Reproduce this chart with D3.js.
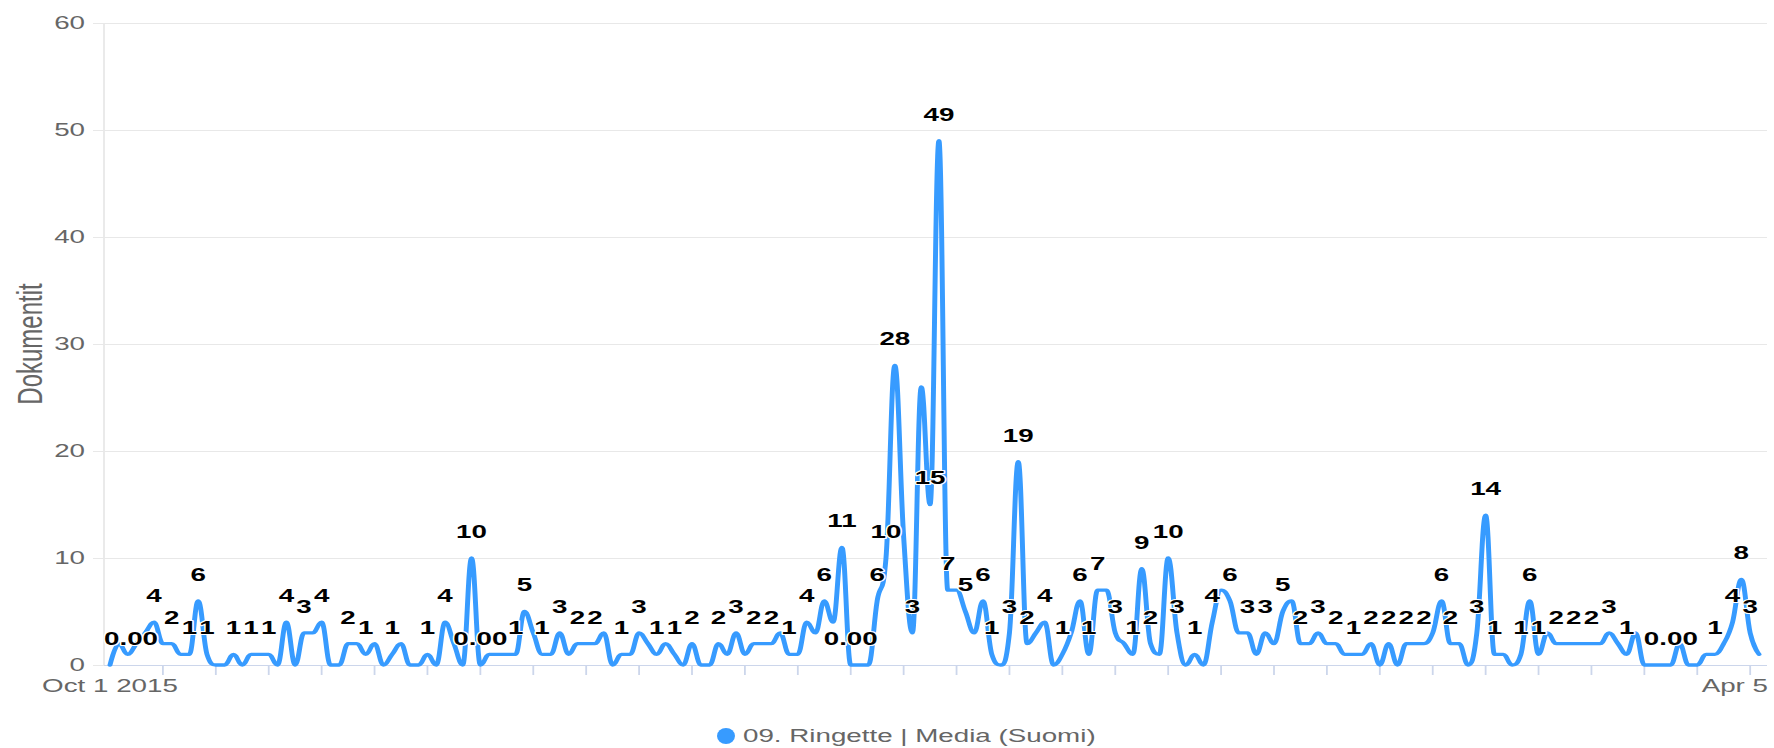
<!DOCTYPE html>
<html>
<head>
<meta charset="utf-8">
<script src="https://cdn.jsdelivr.net/npm/d3@7"></script>
<style>
  html, body { margin: 0; padding: 0; background: #fff; }
  svg { display: block; }
</style>
</head>
<body>
<div id="chart"></div>
<script>
// daily document counts, one value per day from Oct 1 2015 to Apr 5 2016
let start_day = Date.UTC(2015, 9, 1);
let values = [
  0, 2, 1, 2, 3, 4, 2, 2, 1, 1,
  6, 1, 0, 0, 1, 0, 1, 1, 1, 0,
  4, 0, 3, 3, 4, 0, 0, 2, 2, 1,
  2, 0, 1, 2, 0, 0, 1, 0, 4, 2,
  0, 10, 0, 1, 1, 1, 1, 5, 3, 1,
  1, 3, 1, 2, 2, 2, 3, 0, 1, 1,
  3, 2, 1, 2, 1, 0, 2, 0, 0, 2,
  1, 3, 1, 2, 2, 2, 3, 1, 1, 4,
  3, 6, 4, 11, 0, 0, 0, 6, 10, 28,
  12, 3, 26, 15, 49, 7, 7, 5, 3, 6,
  1, 0, 3, 19, 2, 3, 4, 0, 1, 3,
  6, 1, 7, 7, 3, 2, 1, 9, 2, 1,
  10, 3, 0, 1, 0, 4, 7, 6, 3, 3,
  1, 3, 2, 5, 6, 2, 2, 3, 2, 2,
  1, 1, 1, 2, 0, 2, 0, 2, 2, 2,
  3, 6, 2, 2, 0, 3, 14, 1, 1, 0,
  1, 6, 1, 3, 2, 2, 2, 2, 2, 2,
  3, 2, 1, 3, 0, 0, 0, 0, 2, 0,
  0, 1, 1, 2, 4, 8, 3, 1
];
// days whose data label survives the overlap check in the picture
let labelled = [0, 5, 7, 9, 10, 11, 14, 16, 18, 20, 22, 24, 27, 29, 32, 36, 38, 41, 42,
  46, 47, 49, 51, 53, 55, 58, 60, 62, 64, 66, 69, 71, 73, 75, 77, 79, 81, 83, 84, 87, 88,
  89, 91, 93, 94, 95, 97, 99, 100, 102, 103, 104, 106, 108, 110, 111, 112, 114, 116, 117,
  118, 120, 121, 123, 125, 127, 129, 131, 133, 135, 137, 139, 141, 143, 145, 147, 149,
  151, 152, 155, 156, 157, 160, 161, 162, 164, 166, 168, 170, 172, 177, 182, 184, 185, 186];
let y_ticks = [0, 10, 20, 30, 40, 50, 60];
let x_tick_days = 6;
let x_first_label = 'Oct 1 2015';
let x_last_label = 'Apr 5';
let series_name = '09. Ringette | Media (Suomi)';
let y_title = 'Dokumentit';

// the picture is stretched sideways, so draw in a narrower box and stretch it
let svg_width = 1774;
let svg_height = 748;
let stretch = 1.5;
let vw = svg_width / stretch;

let plot_left = 104 / stretch;
let plot_right = 1767 / stretch;
let plot_top = 23;
let plot_bottom = 665;

let line_color = '#379bff';
let font = '"Liberation Sans", Arial, Helvetica, sans-serif';

let dates = values.map((v, i) => new Date(start_day + i * 864e5));

let x = d3.scaleUtc()
    .domain([dates[0], dates[dates.length - 1]])
    .range([110 / stretch, 1759 / stretch]);
let y = d3.scaleLinear().domain([0, 60]).range([plot_bottom, plot_top]);

let svg = d3.select('#chart')
    .append('svg')
    .attr('width', svg_width)
    .attr('height', svg_height)
    .attr('viewBox', `0 0 ${vw} ${svg_height}`)
    .attr('preserveAspectRatio', 'none');

// grid lines and small y ticks
svg.append('g').selectAll('line')
    .data(y_ticks)
    .enter().append('line')
    .attr('x1', plot_left - 11 / stretch)
    .attr('x2', plot_right)
    .attr('y1', d => y(d) + 0.5)
    .attr('y2', d => y(d) + 0.5)
    .attr('stroke', '#e8e8e8')
    .attr('stroke-width', 1.2);

svg.append('line')
    .attr('x1', plot_left).attr('x2', plot_left)
    .attr('y1', plot_top).attr('y2', plot_bottom)
    .attr('stroke', '#e8e8e8')
    .attr('stroke-width', 1.2);

// y labels
svg.append('g').selectAll('text')
    .data(y_ticks)
    .enter().append('text')
    .attr('x', 85 / stretch)
    .attr('y', d => y(d) + 6.5)
    .attr('text-anchor', 'end')
    .attr('font-family', font)
    .attr('font-size', 18.5)
    .attr('fill', '#666')
    .text(d => d);

// y title
svg.append('text')
    .attr('transform', `translate(${42 / stretch},${(plot_top + plot_bottom) / 2}) rotate(-90)`)
    .attr('text-anchor', 'middle')
    .attr('font-family', font)
    .attr('font-size', 24)
    .attr('fill', '#666')
    .text(y_title);

// x axis line, ticks every 6 days
svg.append('line')
    .attr('x1', plot_left).attr('x2', plot_right)
    .attr('y1', plot_bottom + 0.5).attr('y2', plot_bottom + 0.5)
    .attr('stroke', '#ccd6eb')
    .attr('stroke-width', 1.2);

let tick_dates = d3.range(x_tick_days, values.length, x_tick_days).map(i => dates[i]);
svg.append('g').selectAll('line')
    .data(tick_dates)
    .enter().append('line')
    .attr('x1', d => x(d)).attr('x2', d => x(d))
    .attr('y1', plot_bottom).attr('y2', plot_bottom + 10)
    .attr('stroke', '#ccd6eb')
    .attr('stroke-width', 1.2);

svg.append('text')
    .attr('x', x(dates[0]))
    .attr('y', 692)
    .attr('text-anchor', 'middle')
    .attr('font-family', font)
    .attr('font-size', 18.5)
    .attr('fill', '#666')
    .text(x_first_label);

svg.append('text')
    .attr('x', 1768 / stretch)
    .attr('y', 692)
    .attr('text-anchor', 'end')
    .attr('font-family', font)
    .attr('font-size', 18.5)
    .attr('fill', '#666')
    .text(x_last_label);

// spline like Highcharts: control points on a line through each point, no false extremes
function splinePath(pts) {
    let p = d3.path();
    let smoothing = 1.5, denom = smoothing + 1;
    let lastRight = null;
    pts.forEach((pt, i) => {
        if (i === 0) { p.moveTo(pt[0], pt[1]); return; }
        let last = pts[i - 1], next = pts[i + 1];
        let lcx = pt[0], lcy = pt[1], right = null;
        if (next) {
            lcx = (smoothing * pt[0] + last[0]) / denom;
            lcy = (smoothing * pt[1] + last[1]) / denom;
            let rcx = (smoothing * pt[0] + next[0]) / denom;
            let rcy = (smoothing * pt[1] + next[1]) / denom;
            let corr = 0;
            if (rcx !== lcx) corr = ((rcy - lcy) * (rcx - pt[0])) / (rcx - lcx) + pt[1] - rcy;
            lcy += corr; rcy += corr;
            if (lcy > last[1] && lcy > pt[1]) { lcy = Math.max(last[1], pt[1]); rcy = 2 * pt[1] - lcy; }
            else if (lcy < last[1] && lcy < pt[1]) { lcy = Math.min(last[1], pt[1]); rcy = 2 * pt[1] - lcy; }
            if (rcy > next[1] && rcy > pt[1]) { rcy = Math.max(next[1], pt[1]); lcy = 2 * pt[1] - rcy; }
            else if (rcy < next[1] && rcy < pt[1]) { rcy = Math.min(next[1], pt[1]); lcy = 2 * pt[1] - rcy; }
            right = [rcx, rcy];
        }
        let c1 = lastRight || last;
        p.bezierCurveTo(c1[0], c1[1], lcx, lcy, pt[0], pt[1]);
        lastRight = right;
    });
    return p.toString();
}

let pts = values.map((v, i) => [x(dates[i]), y(v)]);

svg.append('path')
    .attr('d', splinePath(pts))
    .attr('fill', 'none')
    .attr('stroke', line_color)
    .attr('stroke-width', 3.3)
    .attr('stroke-linejoin', 'round')
    .attr('stroke-linecap', 'round');

// data labels
let labels = svg.append('g').selectAll('text')
    .data(labelled)
    .enter().append('text')
    .attr('x', i => x(dates[i]))
    .attr('y', i => y(values[i]) - 20)
    .attr('text-anchor', 'middle')
    .attr('font-family', font)
    .attr('font-size', 18.5)
    .attr('font-weight', 'bold')
    .attr('fill', '#000')
    .attr('stroke', '#fff')
    .attr('stroke-width', 2.2)
    .attr('stroke-linejoin', 'round')
    .attr('paint-order', 'stroke')
    .text(i => values[i] === 0 ? '0.00' : values[i]);

// keep labels inside the plot area
labels.each(function (i) {
    let w = this.getComputedTextLength();
    let cx = x(dates[i]);
    if (cx - w / 2 < plot_left) d3.select(this).attr('x', plot_left + w / 2);
    if (cx + w / 2 > plot_right) d3.select(this).attr('x', plot_right - w / 2);
});

// legend
svg.append('ellipse')
    .attr('cx', 726 / stretch)
    .attr('cy', 736)
    .attr('rx', 9 / stretch)
    .attr('ry', 8)
    .attr('fill', line_color);

svg.append('text')
    .attr('x', 743 / stretch)
    .attr('y', 742.5)
    .attr('font-family', font)
    .attr('font-size', 18.5)
    .attr('fill', '#666')
    .text(series_name);
</script>
</body>
</html>
